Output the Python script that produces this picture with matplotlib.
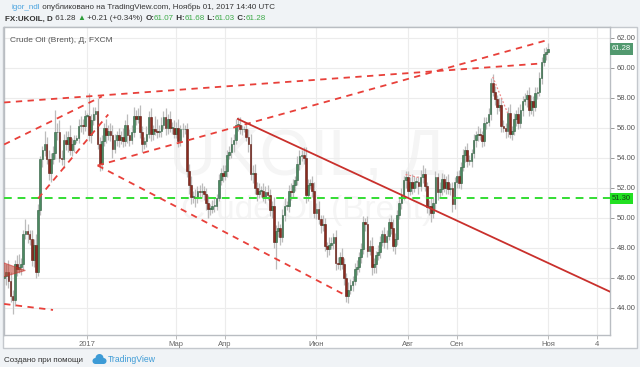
import numpy as np
import matplotlib
matplotlib.use("Agg")
import matplotlib.pyplot as plt
from matplotlib.patches import Rectangle, Polygon, Circle
from matplotlib.transforms import Affine2D, blended_transform_factory

plt.rcParams['font.family'] = ['Liberation Sans', 'DejaVu Sans']

W, H = 640, 367

# daily closes, FXCM UKOIL, weekdays 2016-11-08 .. 2017-11-01
close_nov16 = [46.1, 46.4, 45.8, 44.8, 44.5, 46.9, 46.6, 46.7, 46.9, 48.9, 49.1, 48.9, 48.6, 47.2, 48.2, 46.4, 50.5]
close_dec16 = [53.9, 54.5, 54.9, 53.9, 53.0, 53.9, 54.3, 55.7, 55.7, 54.0, 53.9, 55.2, 54.9, 55.4, 54.5, 54.9,
               55.2, 55.3, 56.1, 56.2, 56.1, 56.8]
close_jan = [56.8, 55.5, 56.5, 56.9, 57.1, 54.9, 53.6, 55.1, 56.0, 55.5, 55.8, 55.5, 54.6, 55.2, 55.5, 55.2,
             55.4, 55.1, 56.2, 55.5, 55.2, 55.7]
close_feb = [56.8, 56.6, 56.8, 55.7, 54.9, 55.1, 55.6, 56.7, 55.6, 55.9, 55.8, 55.7, 55.8, 56.2, 56.7, 56.0,
             56.6, 56.0, 56.0, 55.6]
close_mar = [56.0, 55.1, 55.9, 55.9, 55.9, 53.1, 52.2, 51.4, 51.4, 51.3, 51.8, 51.7, 51.8, 51.6, 51.0, 50.6,
             50.6, 50.8, 50.8, 51.3, 52.5, 53.0, 52.8]
close_apr = [53.1, 54.2, 54.4, 54.9, 55.2, 56.2, 56.2, 55.9, 55.9, 55.9, 55.4, 54.9, 52.9, 53.0, 52.0, 51.6,
             51.8, 51.8, 51.4, 51.7]
close_may = [51.5, 50.5, 50.8, 48.4, 49.1, 49.3, 48.7, 50.2, 50.8, 50.8, 51.8, 51.7, 52.2, 52.5, 53.6, 54.1,
             54.2, 54.0, 51.5, 52.2, 52.3, 51.8, 50.3]
close_jun = [50.6, 49.9, 49.5, 49.6, 48.1, 47.9, 48.2, 48.3, 48.7, 47.0, 46.9, 47.4, 46.9, 46.0, 44.8, 45.2,
             45.5, 45.8, 46.6, 46.7, 47.4, 47.9]
close_jul = [49.7, 49.6, 47.8, 48.1, 46.7, 46.9, 47.5, 47.7, 48.4, 48.9, 48.4, 48.8, 49.7, 49.3, 48.1, 48.6,
             50.2, 51.0, 51.5, 52.5, 52.7]
close_aug = [51.8, 52.4, 52.0, 52.4, 52.4, 52.1, 52.7, 52.9, 52.1, 50.7, 50.8, 50.3, 51.0, 52.7, 51.7, 51.9,
             52.6, 52.0, 52.4, 51.9, 52.0, 50.9, 52.4]
close_sep = [52.8, 52.3, 53.4, 54.2, 54.5, 53.8, 53.8, 54.3, 55.2, 55.5, 55.6, 55.5, 55.1, 56.3, 56.4, 56.9,
             59.0, 58.4, 57.9, 57.4, 57.5]
close_oct = [56.1, 56.0, 55.8, 57.0, 55.6, 55.8, 56.6, 56.9, 56.3, 57.2, 57.8, 57.9, 58.2, 57.2, 57.8, 57.4,
             58.3, 58.4, 59.3, 60.4, 60.9, 61.07]
close_nov = [61.28]
first_open = 46.0

# upper / lower shadow lengths
wick_up = [
    0.4, 0.5, 0.8, 0.6, 0.4, 0.3, 0.6, 0.9, 0.4, 0.3, 0.8, 0.5, 0.3, 0.6, 0.4, 0.7, 0.4,
    0.2, 0.3, 0.9, 0.5, 0.6, 0.4, 0.5, 1.5, 0.6, 0.8, 0.5, 0.4, 0.6, 0.4, 0.8, 0.4, 0.3, 0.2, 0.5, 0.6, 0.4, 0.4,
    0.2, 1.5, 0.4, 0.5, 0.3, 0.9, 0.5, 0.4, 0.3, 0.6, 0.4, 0.5, 0.7, 0.4, 0.3, 0.5, 0.4, 0.6, 0.3, 0.7, 0.4, 0.5,
    0.6, 0.4, 0.5, 0.7, 0.4, 0.3, 0.5, 0.4, 0.6, 0.3, 0.9, 0.8, 0.4, 0.5, 0.4, 0.6, 0.3, 0.5, 0.4, 0.5,
    0.4, 0.6, 0.3, 0.4, 0.3, 0.4, 0.5, 0.6, 0.4, 0.5, 0.3, 0.4, 0.5, 0.3, 0.4, 0.5, 0.3, 0.4, 0.5, 0.3, 0.4, 0.3, 0.5,
    0.4, 0.3, 0.4, 0.5, 0.4, 0.4, 0.5, 0.5, 0.3, 0.2, 0.4, 0.5, 0.7, 0.5, 0.6, 0.4, 0.5, 0.3, 0.5, 0.4,
    0.5, 0.4, 0.3, 0.6, 0.4, 0.5, 0.3, 0.4, 0.5, 0.3, 0.4, 0.5, 0.4, 0.3, 0.5, 0.4, 0.3, 0.5, 0.7, 0.4, 0.3, 0.5, 0.6,
    0.4, 0.5, 0.3, 0.6, 0.4, 0.3, 0.5, 0.4, 0.3, 0.5, 0.4, 0.3, 0.6, 0.4, 0.3, 0.5, 0.4, 0.3, 0.4, 0.5, 0.3, 0.4,
    0.4, 0.3, 0.5, 0.4, 0.6, 0.4, 0.3, 0.5, 0.4, 0.3, 0.5, 0.4, 0.3, 0.5, 0.6, 0.4, 0.3, 0.4, 0.5, 0.3, 0.4,
    0.4, 0.3, 0.5, 0.4, 0.3, 0.4, 0.5, 0.6, 0.4, 0.3, 0.4, 0.5, 0.3, 0.4, 0.3, 0.5, 0.4, 0.3, 0.4, 0.5, 0.3, 0.4, 0.3,
    0.3, 0.4, 0.3, 0.4, 0.3, 0.5, 0.4, 0.3, 0.4, 0.3, 0.5, 0.4, 0.3, 0.4, 0.3, 0.4, 0.3, 0.6, 0.4, 0.3, 0.5,
    0.5, 0.4, 0.3, 0.4, 0.6, 0.3, 0.4, 0.3, 0.5, 0.4, 0.3, 0.4, 0.3, 0.5, 0.4, 0.3, 0.4, 0.3, 0.4, 0.3, 0.4, 0.3,
    0.4]
wick_dn = [
    0.4, 0.6, 0.5, 0.4, 0.9, 0.4, 0.5, 0.3, 0.5, 0.4, 0.3, 0.6, 0.4, 0.4, 0.5, 0.4, 0.3,
    0.3, 0.5, 0.4, 0.3, 0.5, 0.6, 0.3, 0.4, 0.5, 0.3, 0.4, 0.6, 0.4, 0.5, 0.3, 0.4, 0.5, 0.2, 0.3, 0.4, 0.5, 0.3,
    0.1, 0.4, 0.5, 0.3, 0.4, 0.3, 0.5, 0.4, 0.3, 0.5, 0.3, 0.4, 0.6, 0.3, 0.4, 0.5, 0.3, 0.4, 0.3, 0.5, 0.4, 0.3,
    0.3, 0.4, 0.3, 0.4, 0.5, 0.3, 0.4, 0.3, 0.5, 0.4, 0.3, 0.4, 0.3, 0.4, 0.3, 0.5, 0.4, 0.3, 0.4, 0.3,
    0.3, 0.4, 0.3, 0.5, 0.3, 0.4, 0.6, 0.5, 0.4, 0.6, 0.3, 0.4, 0.3, 0.4, 0.5, 0.6, 0.4, 0.3, 0.4, 0.3, 0.2, 0.3, 0.4,
    0.3, 0.4, 0.3, 0.4, 0.5, 0.3, 0.4, 0.3, 0.4, 0.2, 0.3, 0.5, 0.4, 0.6, 0.4, 0.5, 0.3, 0.4, 0.3, 0.4,
    0.3, 0.4, 0.5, 0.4, 1.8, 0.4, 0.5, 0.3, 0.4, 0.3, 0.4, 0.5, 0.3, 0.4, 0.3, 0.4, 0.3, 0.4, 0.5, 0.4, 0.3, 0.4, 0.3,
    0.4, 0.3, 0.5, 0.4, 0.3, 0.5, 0.4, 0.3, 0.4, 0.5, 0.3, 0.4, 0.3, 0.5, 0.4, 0.5, 0.3, 0.4, 0.3, 0.4, 0.3, 0.4,
    0.3, 0.5, 0.4, 0.3, 0.5, 0.4, 0.6, 0.3, 0.4, 0.3, 0.4, 0.5, 0.3, 0.4, 0.3, 0.5, 0.4, 0.3, 0.4, 0.3, 0.5,
    0.5, 0.3, 0.4, 0.3, 0.4, 0.5, 0.3, 0.4, 0.3, 0.4, 0.5, 0.6, 0.3, 0.4, 0.5, 0.3, 0.4, 0.3, 0.4, 0.3, 0.4, 0.5, 0.3,
    0.4, 0.3, 0.4, 0.3, 0.5, 0.4, 0.3, 0.4, 0.3, 0.5, 0.4, 0.3, 0.4, 0.3, 0.4, 0.3, 0.4, 0.3, 0.4, 0.5, 0.3,
    0.4, 0.3, 0.5, 0.4, 0.3, 0.4, 0.3, 0.5, 0.4, 0.3, 0.4, 0.3, 0.5, 0.4, 0.3, 0.6, 0.3, 0.4, 0.3, 0.4, 0.3, 0.4,
    0.04]

start_day = "2016-11-08"
tick_dates = ["2017-01-02", "2017-03-01", "2017-04-03", "2017-06-01", "2017-08-01", "2017-09-01",
              "2017-11-01", "2017-12-04"]
tick_labels = ["2017", "Мар", "Апр", "Июн", "Авг", "Сен", "Ноя", "4"]
price_ticks = [44, 46, 48, 50, 52, 54, 56, 58, 60, 62]

# drawings on the chart (date, price)
dashed_lines = [
    [("2016-11-08", 57.7), ("2017-10-27", 60.3)],
    [("2016-11-08", 54.9), ("2017-01-11", 58.1)],
    [("2016-11-30", 51.3), ("2017-01-16", 56.9)],
    [("2017-01-09", 53.5), ("2017-06-20", 44.9)],
    [("2017-01-09", 53.5), ("2017-11-01", 61.87)],
    [("2016-11-08", 44.27), ("2016-12-09", 43.87)],
]
solid_line = [("2017-04-11", 56.6), ("2017-12-12", 45.1)]
dotted_lines = [
    [("2017-09-26", 59.4), ("2017-10-05", 57.0)],
    [("2017-07-31", 52.9), ("2017-08-08", 52.7)],
]
triangle = [("2016-11-07", 47.05), ("2016-11-22", 46.5), ("2016-11-07", 46.05)]
level = 51.30
last = 61.28


def pos(d):
    return np.busday_count(start_day, d)


closes = np.concatenate([close_nov16, close_dec16, close_jan, close_feb, close_mar, close_apr, close_may,
                         close_jun, close_jul, close_aug, close_sep, close_oct, close_nov])
opens = np.r_[first_open, closes[:-1]]
highs = np.maximum(opens, closes) + np.array(wick_up)
lows = np.minimum(opens, closes) - np.array(wick_dn)
x = np.arange(len(closes))
up = closes >= opens

fig = plt.figure(figsize=(W / 100, H / 100), dpi=100)
fig.patch.set_facecolor('#f0f3f6')
px = Affine2D().scale(1, -1).translate(0, H)   # pixel coords, y from top

# chart panel
fig.add_artist(Rectangle((3, 27), 634, 321, transform=px, facecolor='white',
                         edgecolor='#c4c8cd', lw=1, zorder=0))

ax = fig.add_axes([4 / W, 1 - 335 / H, 606 / W, 308 / H])
ax.set_facecolor('white')
ax.set_xlim(39 - 83 / 2.1244, 39 + 523 / 2.1244)
ax.set_ylim(42.2, 62.73)

ax.set_xticks([pos(d) for d in tick_dates])
ax.set_xticklabels(tick_labels)
ax.set_yticks(price_ticks)
ax.set_yticklabels([f"{p:.2f}" for p in price_ticks])
ax.yaxis.tick_right()
ax.tick_params(axis='y', length=3, width=0.6, color='#8a8a8a', pad=2, labelsize=5.5, labelcolor='#555555')
ax.tick_params(axis='x', length=3, width=0.6, color='#b0b0b0', pad=1.5, labelsize=5.5, labelcolor='#666666')
ax.grid(True, color='#ececec', lw=0.8, zorder=0)
ax.set_axisbelow(True)
for s in ax.spines.values():
    s.set_color('#b9bdc2')
    s.set_linewidth(1)

# watermark
ax.text(0.50, 0.575, "UKOIL, Д", transform=ax.transAxes, ha='center', va='center',
        fontsize=47, color='#f5f5f5', zorder=0.5)
ax.text(0.50, 0.405, "Crude Oil (Brent)", transform=ax.transAxes, ha='center', va='center',
        fontsize=24, color='#f5f5f5', zorder=0.5)

# candles
ax.vlines(x, lows, highs, color='#bcbcbc', lw=0.9, zorder=3)
body_lo = np.minimum(opens, closes)
body_h = np.maximum(np.abs(closes - opens), 0.06)
ax.bar(x[up], body_h[up], bottom=body_lo[up], width=0.8, color='#4b8a61', edgecolor='#2e5c3e',
       lw=0.4, zorder=4)
ax.bar(x[~up], body_h[~up], bottom=body_lo[~up], width=0.8, color='#8b2b1f', edgecolor='#5c1a12',
       lw=0.4, zorder=4)

# drawings
ax.axhline(level, color='#33dd33', lw=1.4, dashes=(4, 3), zorder=5)
for ln in dashed_lines:
    ax.plot([pos(d) for d, _ in ln], [p for _, p in ln], color='#e8403a', lw=1.3,
            dashes=(3.5, 3), zorder=5)
ax.plot([pos(d) for d, _ in solid_line], [p for _, p in solid_line], color='#c9302c', lw=1.3, zorder=5)
for ln in dotted_lines:
    ax.plot([pos(d) for d, _ in ln], [p for _, p in ln], color='#f08a8a', lw=0.9,
            dashes=(1.5, 1.5), zorder=5)
ax.add_patch(Polygon([(pos(d), p) for d, p in triangle], closed=True, facecolor='#c0392b', alpha=0.55,
                     edgecolor='#d0302a', lw=0.8, zorder=5))

# price labels on the scale
bt = blended_transform_factory(ax.transAxes, ax.transData)
ax.text(1.003, last, f"{last:.2f}", transform=bt, ha='left', va='center', fontsize=5.5, color='white',
        bbox=dict(boxstyle='square,pad=0.3', fc='#52996f', ec='none'), clip_on=False, zorder=6)
ax.text(1.003, level, f"{level:.2f}", transform=bt, ha='left', va='center', fontsize=5.5, color='#154015',
        bbox=dict(boxstyle='square,pad=0.3', fc='#22e022', ec='none'), clip_on=False, zorder=6)

ax.text(6 / 606, 1 - 13 / 308, "Crude Oil (Brent), Д, FXCM", transform=ax.transAxes, ha='left',
        va='center', fontsize=6, color='#555555', zorder=6)

# header
renderer = fig.canvas.get_renderer()


def runs(x0, y0, parts, size):
    xx = x0
    for s, col, bold in parts:
        t = fig.text(xx / W, 1 - y0 / H, s, color=col, fontsize=size,
                     fontweight='bold' if bold else 'normal', ha='left', va='center')
        xx += t.get_window_extent(renderer=renderer).width
    return xx


dark = '#333333'
grn = '#3daa48'
runs(11, 7.5, [("igor_ndl", '#4aa3df', False),
               (" опубликовано на TradingView.com, Ноябрь 01, 2017 14:40 UTC", dark, False)], 5.8)
runs(5, 19, [("FX:UKOIL, D", dark, True), (" 61.28 ", dark, False), ("▲", '#2e9e3a', False),
             (" +0.21 (+0.34%) ", dark, False), ("O:", dark, True), ("61.07", grn, False),
             (" H:", dark, True), ("61.68", grn, False), (" L:", dark, True), ("61.03", grn, False),
             (" C:", dark, True), ("61.28", grn, False)], 5.75)

# footer
runs(4, 360, [("Создано при помощи", '#333333', False)], 5.8)
for cx, cy, r in [(95.5, 361, 3.0), (99.5, 358, 4.0), (103.5, 361, 3.0)]:
    fig.add_artist(Circle((cx, cy), r, transform=px, facecolor='#3d9bd6', edgecolor='none'))
fig.add_artist(Rectangle((95.5, 361), 8, 3, transform=px, facecolor='#3d9bd6', edgecolor='none'))
runs(108, 360, [("TradingView", '#3d9bd6', False)], 6.2)

fig.savefig("out.png", dpi=100, facecolor=fig.get_facecolor())
